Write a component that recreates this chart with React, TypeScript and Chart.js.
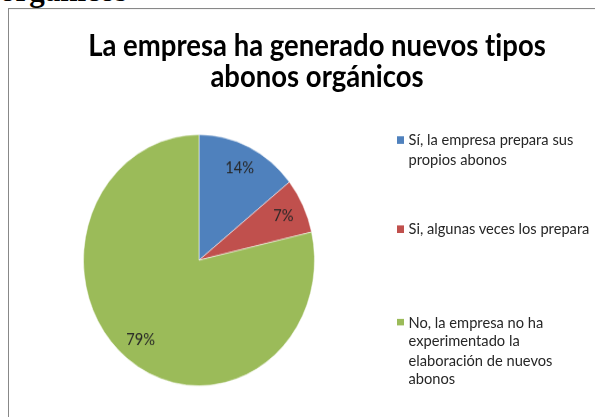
import React, { useEffect, useRef } from "react";
import { Chart, registerables } from "chart.js";

Chart.register(...registerables);

const categories = [
  ["Sí, la empresa prepara sus", "propios abonos"],
  ["Si, algunas veces los prepara"],
  ["No, la empresa no ha", "experimentado la", "elaboración de nuevos", "abonos"],
];
const values = [14.3, 7.1, 78.6];
const colors = ["#4F81BD", "#C0504D", "#9BBB59"];
const titleLines = ["La empresa ha generado nuevos tipos", "abonos orgánicos"];
const headingText = "orgánicos";

const SY = 1.087;
const FONT = "Lato, 'Open Sans', sans-serif";

const labelPlugin = {
  id: "pctLabels",
  afterDatasetsDraw(chart: any) {
    const ctx = chart.ctx;
    const meta = chart.getDatasetMeta(0);
    const data = chart.data.datasets[0].data as number[];
    const total = data.reduce((a, b) => a + b, 0);
    ctx.save();
    ctx.font = `14.7px ${FONT}`;
    ctx.fillStyle = "#262626";
    ctx.textAlign = "center";
    ctx.textBaseline = "middle";
    meta.data.forEach((arc: any, i: number) => {
      const p = arc.getProps(["x", "y", "startAngle", "endAngle", "outerRadius"], true);
      const mid = (p.startAngle + p.endAngle) / 2;
      const r = p.outerRadius * 0.81;
      const x = p.x + Math.cos(mid) * r;
      const y = p.y + Math.sin(mid) * r;
      ctx.fillText(Math.round((data[i] / total) * 100) + "%", x, y);
    });
    ctx.restore();
  },
};

export default function App() {
  const ref = useRef<HTMLCanvasElement>(null);
  useEffect(() => {
    if (!ref.current) return;
    const chart = new Chart(ref.current, {
      type: "pie",
      data: {
        labels: categories.map((c) => c.join(" ")),
        datasets: [
          {
            data: values,
            backgroundColor: colors,
            borderColor: "rgba(255,255,255,0.5)",
            borderWidth: 1,
          },
        ],
      },
      options: {
        responsive: false,
        animation: false,
        maintainAspectRatio: false,
        layout: { padding: 0 },
        plugins: {
          legend: { display: false },
          tooltip: { enabled: false },
          title: { display: false },
        },
      },
      plugins: [labelPlugin],
    });
    return () => chart.destroy();
  }, []);

  const legendTops = [120, 202, 287.5];

  return (
    <div
      style={{
        position: "absolute",
        left: 0,
        top: 0,
        width: 595,
        height: 417,
        overflow: "hidden",
        background: "#fff",
      }}
    >
      <div
        style={{
          position: "absolute",
          left: 0,
          top: -27,
          font: "bold 31px 'Liberation Serif', 'Times New Roman', serif",
          color: "#000",
          whiteSpace: "nowrap",
          lineHeight: "36px",
        }}
      >
        {headingText}
      </div>
      <div
        style={{
          position: "absolute",
          left: 8,
          top: 8,
          width: 620,
          height: 420,
          border: "1.5px solid #888",
          transform: `scaleY(${SY})`,
          transformOrigin: "top left",
          boxSizing: "border-box",
        }}
      >
        <div
          style={{
            position: "absolute",
            left: 0,
            width: 620,
            top: 18,
            textAlign: "center",
            font: `bold 27.5px ${FONT}`,
            lineHeight: "29.4px",
            color: "#000",
            fontVariantLigatures: "none",
            whiteSpace: "nowrap",
          }}
        >
          {titleLines.map((t, i) => (
            <div key={i} style={{ marginLeft: -4 }}>{t}</div>
          ))}
        </div>
        <canvas
          ref={ref}
          width={232}
          height={232}
          style={{ position: "absolute", left: 73.5, top: 114.5, width: 232, height: 232 }}
        />
        {categories.map((lines, i) => (
          <div
            key={i}
            style={{
              position: "absolute",
              left: 387.5,
              top: legendTops[i] - 9,
              font: `14.67px ${FONT}`,
              lineHeight: "17.5px",
              color: "#262626",
            }}
          >
            <span
              style={{
                position: "absolute",
                left: 0,
                top: 6,
                width: 7,
                height: 6.5,
                background: colors[i],
              }}
            />
            <div style={{ marginLeft: 12, whiteSpace: "nowrap" }}>
              {lines.map((l, j) => (
                <div key={j}>{l}</div>
              ))}
            </div>
          </div>
        ))}
      </div>
    </div>
  );
}
